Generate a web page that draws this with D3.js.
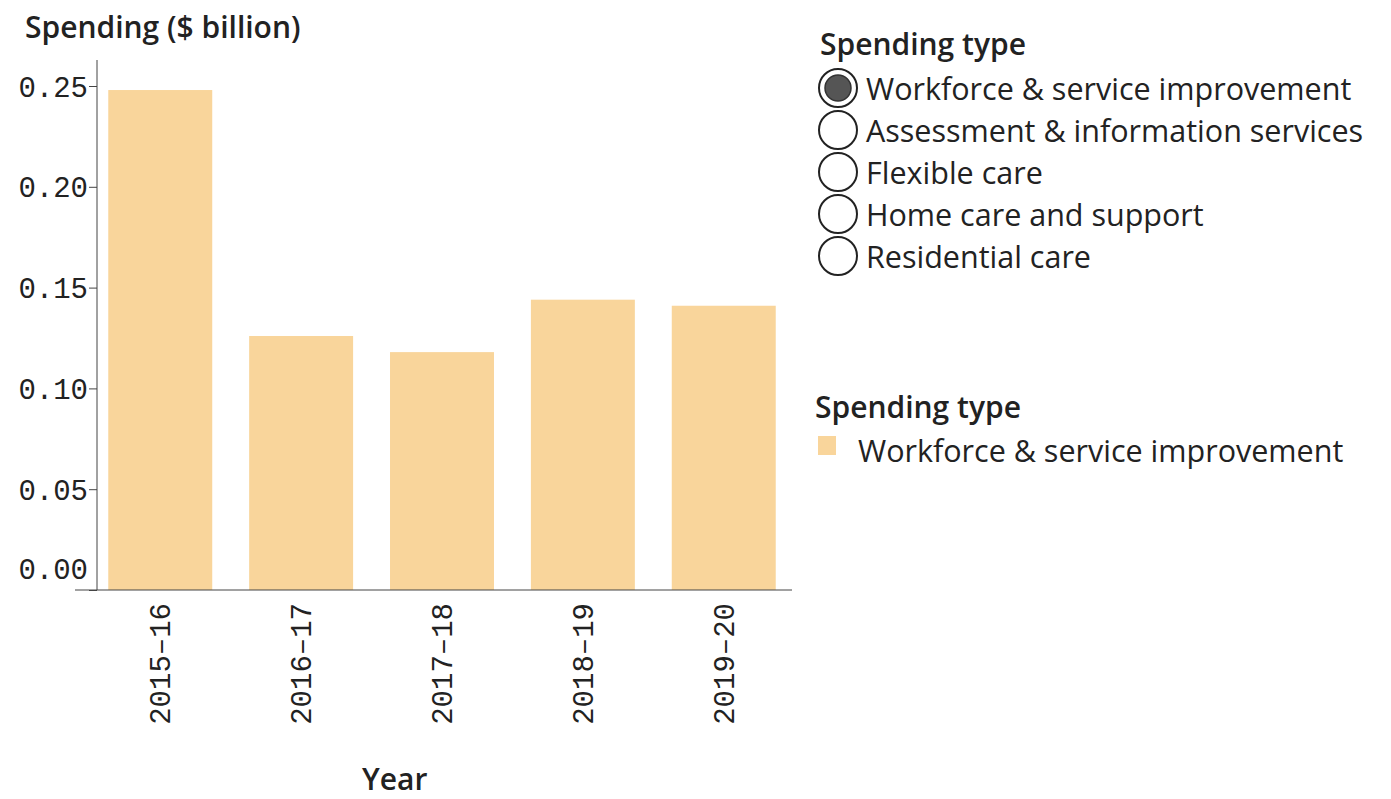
<!DOCTYPE html>
<html lang="en">

<head>
    <meta charset="UTF-8">
    <title>Spending</title>
    <style>
        body { margin: 0; background: #fff; }
        text { font-family: "Open Sans", sans-serif; fill: #222; }
    </style>
</head>

<body>
    <svg width="1391" height="799"></svg>
    <script src="https://cdn.jsdelivr.net/npm/d3@7"></script>
    <script>
        // data
        const years = ["2015–16", "2016–17", "2017–18", "2018–19", "2019–20"];
        const spending = [0.248, 0.126, 0.118, 0.144, 0.141];
        const yTicks = [0, 0.05, 0.10, 0.15, 0.20, 0.25];
        const spendingTypes = ["Workforce & service improvement", "Assessment & information services",
            "Flexible care", "Home care and support", "Residential care"];
        const shownTypes = ["Workforce & service improvement"];

        const svg = d3.select("svg");
        const barColor = "#f9d59b";

        const x = d3.scaleBand()
            .domain(years)
            .range([97, 787])
            .paddingInner(0.262)
            .paddingOuter(0.08);

        const y = d3.scaleLinear()
            .domain([0, 0.25])
            .range([590, 86]);

        // bars
        svg.append("g")
            .selectAll("rect")
            .data(spending)
            .enter()
            .append("rect")
            .attr("x", (d, i) => x(years[i]))
            .attr("y", d => y(d))
            .attr("width", x.bandwidth())
            .attr("height", d => y(0) - y(d))
            .attr("fill", barColor);

        // y axis
        const yAxis = svg.append("g")
            .attr("transform", "translate(97,0)")
            .call(d3.axisLeft(y).tickValues(yTicks).tickFormat(d3.format(".2f")).tickSize(8).tickSizeOuter(0));
        yAxis.select(".domain").attr("d", "M0,60V590").attr("stroke", "#444");
        yAxis.selectAll(".tick line").attr("stroke", "#444");
        yAxis.selectAll(".tick text")
            .attr("x", -9)
            .style("font-family", "'Liberation Mono', monospace")
            .style("font-size", "29px")
            .attr("fill", "#333")
            .attr("dy", d => d === 0 ? "-0.4em" : "0.35em");

        // x axis
        const xAxis = svg.append("g")
            .attr("transform", "translate(0,590)")
            .call(d3.axisBottom(x).tickSize(0));
        xAxis.select(".domain").attr("d", "M75,0H792").attr("stroke", "#444");
        xAxis.selectAll(".tick text")
            .attr("transform", "rotate(-90)")
            .attr("x", -13)
            .attr("y", 0)
            .attr("dy", "0.35em")
            .style("text-anchor", "end")
            .style("font-family", "'Liberation Mono', monospace")
            .style("font-size", "29px")
            .attr("fill", "#333");

        // axis titles
        svg.append("text")
            .attr("x", 25).attr("y", 38)
            .style("font-size", "30px").style("font-weight", 600)
            .text("Spending ($ billion)");
        svg.append("text")
            .attr("x", 362).attr("y", 790)
            .style("font-size", "30px").style("font-weight", 600)
            .text("Year");

        // filter legend
        svg.append("text")
            .attr("x", 820).attr("y", 55)
            .style("font-size", "30px").style("font-weight", 600)
            .text("Spending type");

        const filt = svg.append("g").selectAll("g")
            .data(spendingTypes)
            .enter()
            .append("g")
            .attr("transform", (d, i) => "translate(838," + (88 + i * 42) + ")");
        filt.append("circle")
            .attr("r", 19)
            .attr("fill", "#fff")
            .attr("stroke", "#222")
            .attr("stroke-width", 2);
        filt.filter((d, i) => i === 0).append("circle")
            .attr("r", 13)
            .attr("fill", "#555")
            .attr("stroke", "#333")
            .attr("stroke-width", 1.5);
        filt.append("text")
            .attr("x", 28)
            .attr("dy", "0.4em")
            .style("font-size", "30.5px")
            .text(d => d);

        // colour legend
        svg.append("text")
            .attr("x", 815).attr("y", 418)
            .style("font-size", "30px").style("font-weight", 600)
            .text("Spending type");

        const leg = svg.append("g").selectAll("g")
            .data(shownTypes)
            .enter()
            .append("g")
            .attr("transform", (d, i) => "translate(818," + (436 + i * 30) + ")");
        leg.append("rect")
            .attr("width", 18).attr("height", 19)
            .attr("fill", barColor);
        leg.append("text")
            .attr("x", 40).attr("y", 14)
            .attr("dy", "0.4em")
            .style("font-size", "30.5px")
            .text(d => d);
    </script>
</body>

</html>
